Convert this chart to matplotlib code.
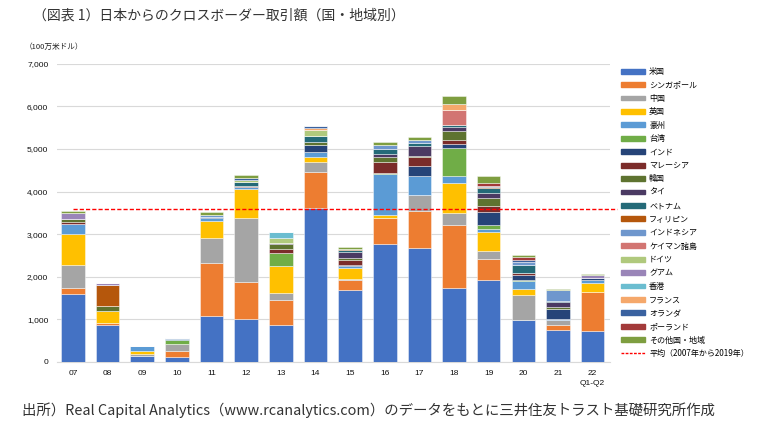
import matplotlib
matplotlib.use("Agg")
import matplotlib.pyplot as plt
import matplotlib.patches as mpatches
from matplotlib.lines import Line2D
import numpy as np

plt.rcParams['font.family'] = ['Noto Sans CJK JP', 'DejaVu Sans']

years = ["07", "08", "09", "10", "11", "12", "13", "14", "15", "16",
         "17", "18", "19", "20", "21", "22\nQ1-Q2"]

# 100万米ドル
us          = [1595, 860, 150, 120, 1070, 1015, 860, 3610, 1680, 2780, 2680, 1725, 1925, 975, 745, 725]
singapore   = [140, 55, 0, 130, 1250, 855, 595, 845, 235, 610, 865, 1485, 485, 0, 115, 915]
china       = [540, 0, 45, 160, 580, 1505, 155, 250, 40, 0, 385, 290, 190, 590, 115, 0]
uk          = [725, 280, 65, 0, 420, 690, 635, 115, 240, 50, 0, 690, 445, 140, 0, 205]
australia   = [250, 0, 115, 0, 60, 40, 0, 110, 50, 975, 445, 180, 65, 195, 40, 85]
taiwan      = [0, 0, 0, 100, 0, 0, 310, 0, 0, 20, 0, 660, 95, 35, 0, 0]
india       = [0, 0, 0, 0, 20, 0, 0, 155, 20, 0, 220, 85, 325, 100, 235, 30]
malaysia    = [30, 0, 0, 0, 0, 25, 100, 0, 140, 255, 210, 100, 140, 45, 0, 0]
korea       = [70, 110, 0, 0, 0, 0, 105, 85, 35, 115, 35, 205, 190, 0, 40, 0]
thailand    = [0, 0, 0, 0, 0, 0, 40, 0, 145, 70, 240, 105, 110, 0, 115, 0]
vietnam     = [0, 0, 0, 30, 0, 100, 0, 135, 50, 115, 60, 45, 110, 190, 35, 0]
philippines = [0, 495, 0, 0, 0, 0, 0, 0, 25, 0, 0, 0, 30, 0, 0, 0]
indonesia   = [0, 0, 0, 30, 50, 0, 0, 0, 0, 105, 60, 0, 30, 80, 255, 0]
cayman      = [0, 0, 0, 0, 0, 0, 0, 0, 0, 0, 0, 350, 0, 0, 0, 0]
germany     = [0, 0, 0, 0, 0, 40, 120, 140, 0, 0, 0, 0, 0, 0, 0, 0]
guam        = [150, 50, 0, 0, 0, 0, 0, 0, 0, 0, 0, 0, 0, 0, 0, 70]
hongkong    = [0, 0, 0, 0, 0, 0, 120, 0, 0, 0, 0, 0, 0, 0, 0, 0]
france      = [0, 0, 0, 0, 0, 0, 0, 45, 0, 0, 0, 135, 0, 0, 0, 0]
netherlands = [0, 0, 0, 0, 0, 40, 0, 40, 0, 0, 0, 0, 0, 50, 0, 0]
poland      = [0, 0, 0, 0, 0, 0, 0, 0, 0, 0, 0, 0, 50, 70, 0, 0]
other       = [55, 0, 0, 0, 80, 80, 0, 0, 50, 60, 90, 180, 185, 35, 25, 25]

names = ["米国", "シンガポール", "中国", "英国", "豪州", "台湾", "インド", "マレーシア",
         "韓国", "タイ", "ベトナム", "フィリピン", "インドネシア", "ケイマン諸島", "ドイツ",
         "グアム", "香港", "フランス", "オランダ", "ポーランド", "その他国・地域"]
series = [us, singapore, china, uk, australia, taiwan, india, malaysia, korea, thailand,
          vietnam, philippines, indonesia, cayman, germany, guam, hongkong, france,
          netherlands, poland, other]
colors = ["#4472C4", "#ED7D31", "#A5A5A5", "#FFC000", "#5B9BD5", "#70AD47", "#264478",
          "#7B2C2A", "#5E7330", "#4B3A63", "#246A78", "#B5570C", "#6F97CD", "#D27572",
          "#B0C97D", "#9A85B8", "#6BBDD0", "#F5A86B", "#3A62A0", "#A33A3A", "#7E9E40"]

fig = plt.figure(figsize=(7.76, 4.34), dpi=100)
ax = fig.add_axes([0.073, 0.166, 0.713, 0.687])

x = np.arange(len(years))
bottom = np.zeros(len(years))
handles = []
for name, vals, c in zip(names, series, colors):
    v = np.array(vals, dtype=float)
    ax.bar(x, v, 0.68, bottom=bottom, color=c, edgecolor=(1, 1, 1, 0.6),
           linewidth=0.5, zorder=3)
    bottom += v
    handles.append(mpatches.Patch(color=c, label=name))

# average 2007-2019
avg = bottom[:13].mean()
ax.plot([0, 15.7], [avg, avg], color="#FF0000", ls=(0, (3, 1.5)), lw=1.0,
        zorder=4, clip_on=False)
handles.append(Line2D([], [], color="#FF0000", ls=(0, (2, 1)), lw=1.0,
                      label="平均（2007年から2019年）"))

ax.set_xlim(-0.47, 15.5)
ax.set_ylim(0, 7000)
ax.set_yticks(range(0, 7001, 1000))
ax.set_yticklabels([f"{v:,}" for v in range(0, 7001, 1000)],
                   family="Liberation Sans", fontsize=6, color="#111111")
ax.set_xticks(x)
ax.set_xticklabels(years, family="Liberation Sans", fontsize=6, color="#111111",
                   linespacing=1.5)
ax.tick_params(length=0, pad=6)
ax.grid(axis="y", color="#D9D9D9", lw=0.8, zorder=0)
for s in ["top", "right", "left"]:
    ax.spines[s].set_visible(False)
ax.spines["bottom"].set_color("#D9D9D9")

fig.legend(handles=handles, loc="upper left", bbox_to_anchor=(0.796, 0.853),
           frameon=False, fontsize=5.8, handlelength=3.0, handleheight=0.55,
           handletextpad=0.5, labelspacing=0.55, borderaxespad=0)

fig.text(0.042, 0.965, "（図表 1）日本からのクロスボーダー取引額（国・地域別）",
         fontsize=10, color="#333333", va="center")
fig.text(0.032, 0.893, "（100万米ドル）", fontsize=5.5, color="#222222", va="center")
fig.text(0.028, 0.055,
         "出所）Real Capital Analytics（www.rcanalytics.com）のデータをもとに三井住友トラスト基礎研究所作成",
         fontsize=10.4, color="#333333", va="center")

fig.savefig("out.png", dpi=100)
